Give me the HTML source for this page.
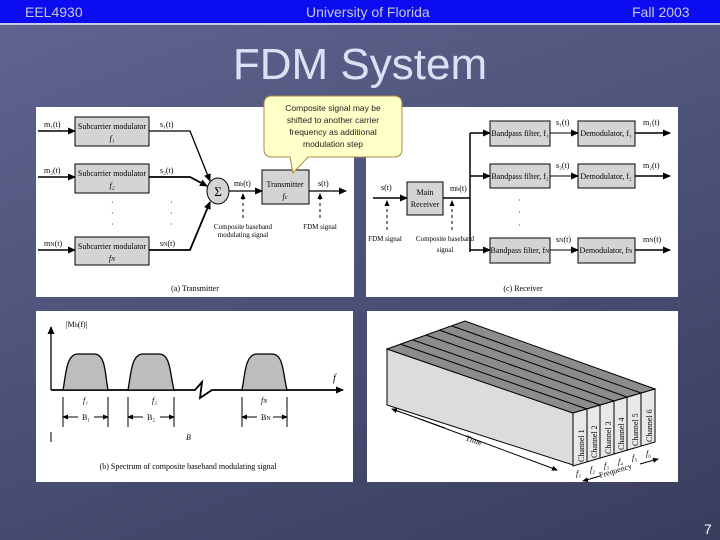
<!DOCTYPE html>
<html><head><meta charset="utf-8"><style>
html,body{margin:0;padding:0}
body{width:720px;height:540px;overflow:hidden;position:relative;background:linear-gradient(160deg,#5f6590 0%,#4d5379 45%,#3a3d5e 100%);font-family:"Liberation Sans",sans-serif}
.bar{position:absolute;left:0;top:0;width:720px;height:23px;background:#0c0cf0;border-bottom:2px solid #c8c8e0;color:#c8c8d0;font-size:14px}
.bar span{position:absolute;top:4px}
.title{position:absolute;left:0;width:720px;top:40px;text-align:center;font-size:44px;color:#dde0f4}
.num{position:absolute;left:704px;top:521px;color:#fff;font-size:14px}
svg{position:absolute;left:0;top:0}
</style></head><body>
<div class="bar"><span style="left:25px">EEL4930</span><span style="left:306px">University of Florida</span><span style="left:632px">Fall 2003</span></div>
<div class="title">FDM System</div>
<div class="num">7</div>
<svg width="720" height="540" font-family="Liberation Serif, serif" font-size="8">
<defs><marker id="a" markerWidth="8" markerHeight="8" refX="7" refY="4" orient="auto" markerUnits="userSpaceOnUse"><path d="M0,0.5 L8,4 L0,7.5z" fill="#000"/></marker>
<marker id="s" markerWidth="6" markerHeight="6" refX="5" refY="3" orient="auto" markerUnits="userSpaceOnUse"><path d="M0,0.5 L6,3 L0,5.5z" fill="#000"/></marker></defs>
<!-- panels -->
<rect x="36" y="107" width="318" height="190" fill="#fff"/>
<rect x="366" y="107" width="312" height="190" fill="#fff"/>
<rect x="36" y="311" width="317" height="171" fill="#fff"/>
<rect x="367" y="311" width="311" height="171" fill="#fff"/>
<g stroke="#000" fill="none">
<!-- transmitter -->
<line x1="38" y1="131" x2="75" y2="131" stroke-width="1.5" marker-end="url(#a)"/>
<line x1="38" y1="177" x2="75" y2="177" stroke-width="1.5" marker-end="url(#a)"/>
<line x1="38" y1="250" x2="75" y2="250" stroke-width="1.5" marker-end="url(#a)"/>
<rect x="75" y="117" width="74" height="29" fill="#d4d4d4"/>
<rect x="75" y="164" width="74" height="29" fill="#d4d4d4"/>
<rect x="75" y="237" width="74" height="28" fill="#d4d4d4"/>
<polyline points="149,131 190,131 210,181" stroke-width="1.3" marker-end="url(#a)"/>
<polyline points="149,177 190,177 207,186" stroke-width="1.8" marker-end="url(#a)"/>
<polyline points="149,250 190,250 210,202" stroke-width="1.8" marker-end="url(#a)"/>
<ellipse cx="218" cy="191" rx="11" ry="13" fill="#d4d4d4"/>
<line x1="229" y1="191" x2="262" y2="191" stroke-width="1.3" marker-end="url(#a)"/>
<rect x="262" y="170" width="47" height="34" fill="#d4d4d4"/>
<line x1="309" y1="191" x2="346" y2="191" stroke-width="1.3" marker-end="url(#a)"/>
<line x1="243" y1="218" x2="243" y2="194" stroke-dasharray="3,3" marker-end="url(#s)"/>
<line x1="320" y1="218" x2="320" y2="194" stroke-dasharray="3,3" marker-end="url(#s)"/>
<!-- receiver -->
<line x1="373" y1="198" x2="407" y2="198" stroke-width="1.5" marker-end="url(#a)"/>
<rect x="407" y="182" width="36" height="33" fill="#d4d4d4"/>
<line x1="443" y1="198" x2="470" y2="198" stroke-width="1.5"/>
<line x1="470" y1="133" x2="470" y2="252" stroke-width="1.5"/>
<line x1="470" y1="133" x2="490" y2="133" stroke-width="1.5" marker-end="url(#a)"/>
<line x1="470" y1="176" x2="490" y2="176" stroke-width="1.5" marker-end="url(#a)"/>
<line x1="470" y1="250" x2="490" y2="250" stroke-width="1.5" marker-end="url(#a)"/>
<rect x="490" y="121" width="60" height="25" fill="#d4d4d4"/>
<rect x="490" y="164" width="60" height="24" fill="#d4d4d4"/>
<rect x="490" y="238" width="60" height="25" fill="#d4d4d4"/>
<rect x="578" y="121" width="57" height="25" fill="#d4d4d4"/>
<rect x="578" y="164" width="57" height="24" fill="#d4d4d4"/>
<rect x="578" y="238" width="57" height="25" fill="#d4d4d4"/>
<line x1="550" y1="133" x2="578" y2="133" marker-end="url(#a)"/>
<line x1="550" y1="176" x2="578" y2="176" marker-end="url(#a)"/>
<line x1="550" y1="250" x2="578" y2="250" marker-end="url(#a)"/>
<line x1="635" y1="133" x2="670" y2="133" stroke-width="1.5" marker-end="url(#a)"/>
<line x1="635" y1="176" x2="670" y2="176" stroke-width="1.5" marker-end="url(#a)"/>
<line x1="635" y1="250" x2="670" y2="250" stroke-width="1.5" marker-end="url(#a)"/>
<line x1="387" y1="230" x2="387" y2="201" stroke-dasharray="3,3" marker-end="url(#s)"/>
<line x1="452" y1="230" x2="452" y2="201" stroke-dasharray="3,3" marker-end="url(#s)"/>
<!-- spectrum -->
<line x1="51" y1="390" x2="51" y2="327" stroke-width="1.3" marker-end="url(#a)"/>
<polyline points="51,390 195,390 202,382 200,398 212,390 343,390" stroke-width="1.8" marker-end="url(#a)"/>
<path d="M63,390 C66,375 66,354 78,354 L94,354 C106,354 105,375 108,390z" fill="#bdbdbd" stroke-width="1.3"/>
<path d="M128,390 C131,375 131,354 143,354 L159,354 C171,354 170,375 174,390z" fill="#bdbdbd" stroke-width="1.3"/>
<path d="M242,390 C245,375 245,354 257,354 L272,354 C284,354 283,375 287,390z" fill="#bdbdbd" stroke-width="1.3"/>
<line x1="63" y1="397" x2="63" y2="427"/><line x1="108" y1="397" x2="108" y2="427"/>
<line x1="128" y1="397" x2="128" y2="427"/><line x1="174" y1="397" x2="174" y2="427"/>
<line x1="242" y1="397" x2="242" y2="427"/><line x1="287" y1="397" x2="287" y2="427"/>
<line x1="78" y1="417" x2="63" y2="417" marker-end="url(#s)"/><line x1="94" y1="417" x2="108" y2="417" marker-end="url(#s)"/>
<line x1="143" y1="417" x2="128" y2="417" marker-end="url(#s)"/><line x1="160" y1="417" x2="174" y2="417" marker-end="url(#s)"/>
<line x1="257" y1="417" x2="242" y2="417" marker-end="url(#s)"/><line x1="273" y1="417" x2="287" y2="417" marker-end="url(#s)"/>
<line x1="51" y1="432" x2="51" y2="442"/>
<!-- 3D box -->
<polygon points="387,349 573,413 573,465 387,405" fill="#dcdcdc"/>
<polygon points="387,349 465,321 655,389 573,413" fill="#8c8c8c"/>
<polygon points="573,413 655,389 655,442 573,466" fill="#e8e8e8"/>
<g stroke-width="1">
<line x1="400" y1="344" x2="587" y2="409"/><line x1="413" y1="340" x2="600" y2="405"/>
<line x1="426" y1="335" x2="614" y2="401"/><line x1="439" y1="330" x2="627" y2="397"/>
<line x1="452" y1="326" x2="641" y2="393"/>
<line x1="587" y1="409" x2="587" y2="462"/><line x1="600" y1="405" x2="600" y2="458"/>
<line x1="614" y1="401" x2="614" y2="454"/><line x1="627" y1="397" x2="627" y2="450"/>
<line x1="641" y1="393" x2="641" y2="446"/>
</g>
<line x1="420" y1="419" x2="557" y2="470" marker-end="url(#s)"/>
<line x1="445" y1="428" x2="392" y2="409" marker-end="url(#s)"/>
<line x1="600" y1="476" x2="583" y2="481" marker-end="url(#s)"/>
<line x1="640" y1="464" x2="658" y2="459" marker-end="url(#s)"/>
</g>
<g fill="#000">
<text x="44" y="127">m₁(t)</text><text x="44" y="173">m₂(t)</text><text x="44" y="246">m<tspan font-size="6">N</tspan>(t)</text>
<text x="112" y="129" text-anchor="middle">Subcarrier modulator</text><text x="112" y="141" text-anchor="middle" font-style="italic">f₁</text>
<text x="112" y="176" text-anchor="middle">Subcarrier modulator</text><text x="112" y="188" text-anchor="middle" font-style="italic">f₂</text>
<text x="112" y="249" text-anchor="middle">Subcarrier modulator</text><text x="112" y="261" text-anchor="middle" font-style="italic">f<tspan font-size="6">N</tspan></text>
<text x="160" y="127">s₁(t)</text><text x="160" y="173">s₂(t)</text><text x="160" y="246">s<tspan font-size="6">N</tspan>(t)</text>
<text x="111" y="205">·</text><text x="111" y="216">·</text><text x="111" y="227">·</text>
<text x="170" y="205">·</text><text x="170" y="216">·</text><text x="170" y="227">·</text>
<text x="218" y="196" text-anchor="middle" font-size="13">Σ</text>
<text x="234" y="186">m<tspan font-size="6">b</tspan>(t)</text>
<text x="285" y="187" text-anchor="middle">Transmitter</text><text x="285" y="199" text-anchor="middle" font-style="italic">f<tspan font-size="6">c</tspan></text>
<text x="318" y="186">s(t)</text>
<text x="243" y="229" text-anchor="middle" font-size="7">Composite baseband</text><text x="243" y="237" text-anchor="middle" font-size="7">modulating signal</text>
<text x="320" y="229" text-anchor="middle" font-size="7">FDM signal</text>
<text x="195" y="291" text-anchor="middle">(a) Transmitter</text>
<text x="381" y="190">s(t)</text>
<text x="425" y="195" text-anchor="middle">Main</text><text x="425" y="207" text-anchor="middle">Receiver</text>
<text x="450" y="191">m<tspan font-size="6">b</tspan>(t)</text>
<text x="385" y="241" text-anchor="middle" font-size="7">FDM signal</text>
<text x="445" y="241" text-anchor="middle" font-size="7">Composite baseband</text><text x="445" y="252" text-anchor="middle" font-size="7">signal</text>
<text x="520" y="136" text-anchor="middle">Bandpass filter, f₁</text>
<text x="520" y="179" text-anchor="middle">Bandpass filter, f₂</text>
<text x="520" y="253" text-anchor="middle">Bandpass filter, f<tspan font-size="6">N</tspan></text>
<text x="606" y="136" text-anchor="middle">Demodulator, f₁</text>
<text x="606" y="179" text-anchor="middle">Demodulator, f₂</text>
<text x="606" y="253" text-anchor="middle">Demodulator, f<tspan font-size="6">N</tspan></text>
<text x="556" y="125">s₁(t)</text><text x="556" y="168">s₂(t)</text><text x="556" y="242">s<tspan font-size="6">N</tspan>(t)</text>
<text x="643" y="125">m₁(t)</text><text x="643" y="168">m₂(t)</text><text x="643" y="242">m<tspan font-size="6">N</tspan>(t)</text>
<text x="518" y="203">·</text><text x="518" y="215">·</text><text x="518" y="228">·</text>
<text x="523" y="291" text-anchor="middle">(c) Receiver</text>
<text x="66" y="327">|M<tspan font-size="6">b</tspan>(f)|</text>
<text x="333" y="381" font-style="italic" font-size="10">f</text>
<text x="83" y="403" font-style="italic">f₁</text><text x="152" y="403" font-style="italic">f₂</text><text x="261" y="403" font-style="italic">f<tspan font-size="6">N</tspan></text>
<text x="82" y="420">B₁</text><text x="147" y="420">B₂</text><text x="261" y="420">B<tspan font-size="6">N</tspan></text>
<text x="186" y="440" font-style="italic">B</text>
<text x="188" y="469" text-anchor="middle">(b) Spectrum of composite baseband modulating signal</text>
<text transform="translate(465,440) rotate(19)" font-size="8">Time</text>
<text transform="translate(600,478) rotate(-17)" font-size="8">Frequency</text>
<text x="576" y="476" font-size="8" font-style="italic">f₁</text><text x="590" y="472" font-size="8" font-style="italic">f₂</text><text x="604" y="468" font-size="8" font-style="italic">f₃</text><text x="618" y="464" font-size="8" font-style="italic">f₄</text><text x="632" y="460" font-size="8" font-style="italic">f₅</text><text x="646" y="456" font-size="8" font-style="italic">f₆</text>
<g font-size="8">
<text transform="translate(584,462) rotate(-90)">Channel 1</text>
<text transform="translate(597,458) rotate(-90)">Channel 2</text>
<text transform="translate(611,454) rotate(-90)">Channel 3</text>
<text transform="translate(624,450) rotate(-90)">Channel 4</text>
<text transform="translate(638,446) rotate(-90)">Channel 5</text>
<text transform="translate(652,442) rotate(-90)">Channel 6</text>
</g>
</g>
<!-- callout -->
<path d="M272,96 L394,96 Q402,96 402,104 L402,149 Q402,157 394,157 L308,157 L293,173 L290,157 L272,157 Q264,157 264,149 L264,104 Q264,96 272,96z" fill="#ffffc8" stroke="#b08840" stroke-width="1"/>
<g font-family="Liberation Sans, sans-serif" font-size="8.5" fill="#222" text-anchor="middle">
<text x="333" y="111">Composite signal may be</text>
<text x="333" y="123">shifted to another carrier</text>
<text x="333" y="135">frequency as additional</text>
<text x="333" y="147">modulation step</text>
</g>
</svg>
</body></html>
